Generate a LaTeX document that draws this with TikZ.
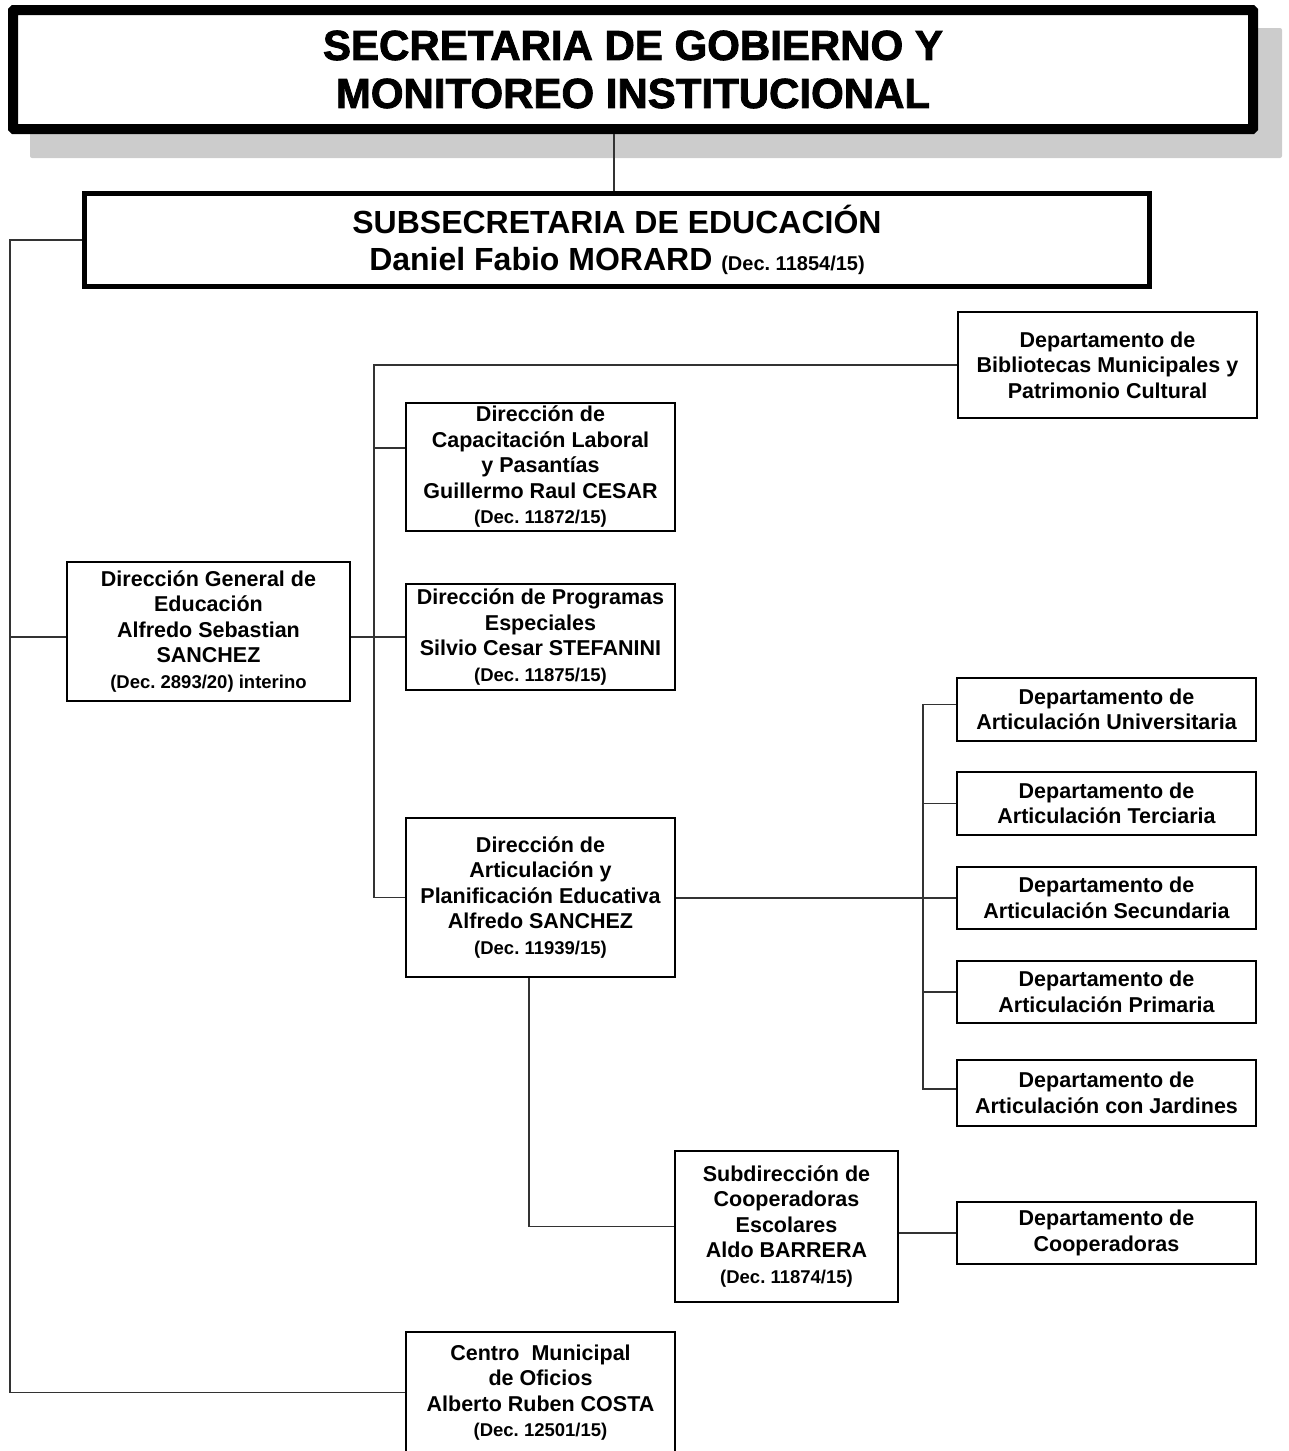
\documentclass[tikz,border=0pt]{standalone}
\usepackage{fontspec}
\setmainfont{Liberation Sans}
\newfontfamily\heavyfont[BoldFeatures={FakeBold=2}]{Liberation Sans}
\newcommand\decsz{\fontsize{18.5}{25.5}\selectfont}
\frenchspacing
\begin{document}
\begin{tikzpicture}[x=1pt,y=-1pt,
  box/.style={draw,line width=2.4pt,fill=white,align=center,inner sep=0pt,
    font=\bfseries\fontsize{21.5}{25.5}\selectfont},
  conn/.style={line width=1.2pt,draw=black!80}]
\useasboundingbox (0,0) rectangle (1289,1451);
% shadow of the top box
\fill[black!20,rounded corners=2pt] (30,28) rectangle (1282,158);
% top box
\node[draw,line width=10pt,fill=white,rounded corners=1pt,align=center,inner sep=0pt,
  minimum width=1240pt,minimum height=119pt,
  font=\heavyfont\bfseries\fontsize{42}{48}\selectfont] (top) at (633,69.5)
  {SECRETARIA DE GOBIERNO Y\\MONITOREO INSTITUCIONAL};
% subsecretaria
\node[draw,line width=5pt,fill=white,align=center,inner sep=0pt,
  minimum width=1065pt,minimum height=93pt,
  font=\bfseries\fontsize{32}{37}\selectfont] (sub) at (617,240)
  {SUBSECRETARIA DE EDUCACIÓN\\Daniel Fabio MORARD {\fontsize{20}{37}\selectfont(Dec. 11854/15)}};
% boxes
\node[box,minimum width=283pt,minimum height=139pt] (dg) at (208.5,631.5)
  {Dirección General de\\Educación\\Alfredo Sebastian\\SANCHEZ\\{\decsz (Dec. 2893/20) interino}};
\node[box,minimum width=269pt,minimum height=128pt] (cap) at (540.5,467)
  {Dirección de\\Capacitación Laboral\\y Pasantías\\Guillermo Raul CESAR\\{\decsz (Dec. 11872/15)}};
\node[box,minimum width=269pt,minimum height=106pt] (prog) at (540.5,637)
  {Dirección de Programas\\Especiales\\Silvio Cesar STEFANINI\\{\decsz (Dec. 11875/15)}};
\node[box,minimum width=269pt,minimum height=159pt] (art) at (540.5,897.5)
  {Dirección de\\Articulación y\\Planificación Educativa\\Alfredo SANCHEZ\\{\decsz (Dec. 11939/15)}};
\node[box,minimum width=299pt,minimum height=106pt] (bib) at (1107.5,365)
  {Departamento de\\Bibliotecas Municipales y\\Patrimonio Cultural};
\node[box,minimum width=299pt,minimum height=63pt] (univ) at (1106.5,709.5)
  {Departamento de\\Articulación Universitaria};
\node[box,minimum width=299pt,minimum height=63pt] (terc) at (1106.5,803.5)
  {Departamento de\\Articulación Terciaria};
\node[box,minimum width=299pt,minimum height=62pt] (secu) at (1106.5,898)
  {Departamento de\\Articulación Secundaria};
\node[box,minimum width=299pt,minimum height=62pt] (prim) at (1106.5,992)
  {Departamento de\\Articulación Primaria};
\node[box,minimum width=299pt,minimum height=66pt] (jard) at (1106.5,1093)
  {Departamento de\\Articulación con Jardines};
\node[box,minimum width=223pt,minimum height=151pt] (subd) at (786.5,1226.5)
  {Subdirección de\\Cooperadoras\\Escolares\\Aldo BARRERA\\{\decsz (Dec. 11874/15)}};
\node[box,minimum width=299pt,minimum height=62pt] (coop) at (1106.5,1233)
  {Departamento de\\Cooperadoras};
\node[box,minimum width=269pt,minimum height=121pt] (cen) at (540.5,1392.5)
  {Centro\ \ Municipal\\de Oficios\\Alberto Ruben COSTA\\{\decsz (Dec. 12501/15)}};
% connector guides
\coordinate (J1) at (614,0);
\coordinate (L) at (10,0);
\coordinate (M) at (374,0);
\coordinate (R) at (923,0);
\coordinate (A) at (529,0);
\coordinate (capin) at ([yshift=19pt]cap.west);
\coordinate (univin) at ([yshift=5pt]univ.west);
\coordinate (jardin) at ([yshift=4pt]jard.west);
% connectors
\draw[conn] (J1 |- top.south) -- (J1 |- sub.north);
\draw[conn] (sub.west) -| (L |- cen.west) -- (cen.west);
\draw[conn] (L |- prog.west) -- (dg.west |- prog.west);
\draw[conn] (dg.east |- prog.west) -- (prog.west);
\draw[conn] (bib.west) -| (M |- art.west) -- (art.west);
\draw[conn] (M |- capin) -- (capin);
\draw[conn] (art.east |- secu.west) -- (secu.west);
\draw[conn] (univin) -| (R |- jardin) -- (jardin);
\draw[conn] (R |- terc.west) -- (terc.west);
\draw[conn] (R |- prim.west) -- (prim.west);
\draw[conn] (A |- art.south) |- (subd.west);
\draw[conn] (subd.east |- coop.west) -- (coop.west);
\end{tikzpicture}
\end{document}
